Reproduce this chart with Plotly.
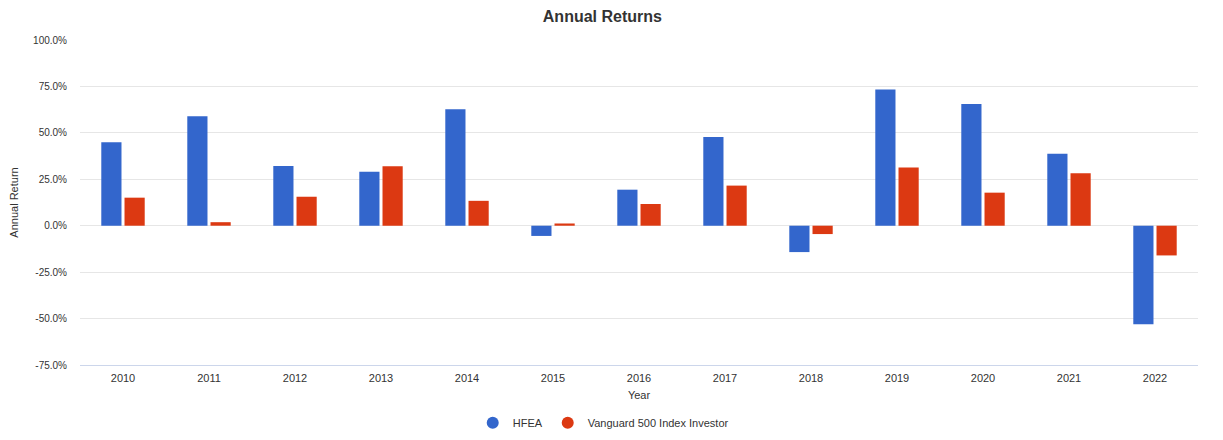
import plotly.graph_objects as go

years = ["2010", "2011", "2012", "2013", "2014", "2015", "2016", "2017", "2018", "2019", "2020", "2021", "2022"]
hfea = [45.0, 59.0, 32.1, 29.0, 62.7, -5.5, 19.4, 47.8, -14.2, 73.3, 65.6, 38.7, -53.1]
vfinx = [15.1, 1.9, 15.6, 32.0, 13.4, 1.2, 11.7, 21.6, -4.5, 31.3, 17.8, 28.3, -16.0]
series_names = ["HFEA", "Vanguard 500 Index Investor"]
colors = ["#3366cc", "#dc3912"]
y_ticks = [-75, -50, -25, 0, 25, 50, 75, 100]

fig = go.Figure()
for name, vals, c in zip(series_names, [hfea, vfinx], colors):
    fig.add_trace(go.Bar(x=years, y=vals, name=name, marker=dict(color=c, line=dict(width=0)),
                         showlegend=False,
                         hovertemplate="%{x}: %{y:.2f}%<extra>" + name + "</extra>"))
for name, c in zip(series_names, colors):
    fig.add_trace(go.Scatter(x=[None], y=[None], mode="markers", name=name,
                             marker=dict(color=c, size=11, symbol="circle")))

fig.update_layout(
    width=1223, height=440,
    margin=dict(l=72, r=33, t=32, b=83, autoexpand=False),
    paper_bgcolor="white", plot_bgcolor="white",
    font=dict(family="Liberation Sans, Arial, sans-serif", size=11, color="#333333"),
    title=dict(text="<b>Annual Returns</b>", x=0.486, xanchor="center", y=0.982, yanchor="middle",
               font=dict(size=16, color="#333333")),
    barmode="group", bargap=0.46, bargroupgap=0.13,
    legend=dict(orientation="h", x=0.468, xanchor="center", y=-0.178, yanchor="middle",
                font=dict(size=11, color="#333333"), itemsizing="constant"),
    xaxis=dict(title=dict(text="Year", standoff=8, font=dict(size=11)), showgrid=False,
               showline=True, linecolor="#ccd6eb", linewidth=1, ticks="outside", ticklen=3,
               tickcolor="rgba(0,0,0,0)", tickfont=dict(size=11)),
    yaxis=dict(title=dict(text="Annual Return", standoff=20, font=dict(size=11)),
               range=[-75, 100], tickvals=y_ticks, ticktext=[f"{v:.1f}%" for v in y_ticks],
               showgrid=True, gridcolor="#e6e6e6", gridwidth=1, zeroline=True,
               zerolinecolor="#e6e6e6", zerolinewidth=1, tickfont=dict(size=10),
               ticks="outside", ticklen=10, tickcolor="rgba(0,0,0,0)"),
)

fig.write_html("out.html")
